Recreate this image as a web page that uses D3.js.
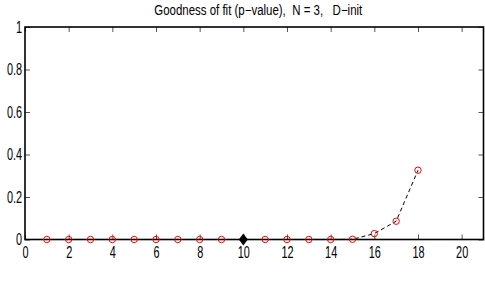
<!DOCTYPE html>
<html>
<head>
<meta charset="utf-8">
<script src="https://cdn.jsdelivr.net/npm/d3@7"></script>
<style>
  body { margin: 0; background: #fff; }
  text { font-family: "Liberation Sans", Arial, sans-serif; white-space: pre; }
</style>
</head>
<body>
<div id="chart"></div>
<script>
const width = 485;
const height = 281;

// data
const iterations = [1, 2, 3, 4, 5, 6, 7, 8, 9, 11, 12, 13, 14, 15, 16, 17, 18];
const pValues = [0, 0, 0, 0, 0, 0, 0, 0, 0, 0, 0, 0, 0, 0.001, 0.028, 0.086, 0.326];
const initX = [10];
const initY = [0];
const xTicks = [0, 2, 4, 6, 8, 10, 12, 14, 16, 18, 20];
const yTicks = [0, 0.2, 0.4, 0.6, 0.8, 1];
const title = "Goodness of fit (p\u2212value),  N = 3,   D\u2212init";

const plotLeft = 25, plotRight = 483.5, plotTop = 27, plotBottom = 239.5;
const sx = 0.68; // squeeze labels horizontally

const svg = d3.select("#chart")
  .append("svg")
  .attr("width", width)
  .attr("height", height);

const x = d3.scaleLinear().domain([0, 21]).range([plotLeft, plotRight]);
const y = d3.scaleLinear().domain([0, 1]).range([plotBottom, plotTop]);

const fmt = d => String(d);

function styleAxis(g, hideText) {
  g.select(".domain").remove();
  g.selectAll(".tick line").attr("stroke", "#555").attr("stroke-width", 1);
  g.selectAll(".tick text").attr("fill", "#000").attr("font-size", 16);
  if (hideText) g.selectAll(".tick text").remove();
}

// bottom axis
const gx = svg.append("g")
  .attr("transform", `translate(0,${plotBottom})`)
  .call(d3.axisBottom(x).tickValues(xTicks).tickFormat(fmt).tickSizeInner(-5).tickSizeOuter(0));
styleAxis(gx, false);
gx.selectAll(".tick text")
  .attr("y", 7)
  .attr("transform", `scale(${sx},1)`);

// top axis (mirror ticks)
const gxt = svg.append("g")
  .attr("transform", `translate(0,${plotTop})`)
  .call(d3.axisTop(x).tickValues(xTicks).tickSizeInner(-5).tickSizeOuter(0));
styleAxis(gxt, true);

// left axis
const gy = svg.append("g")
  .attr("transform", `translate(${plotLeft},0)`)
  .call(d3.axisLeft(y).tickValues(yTicks).tickFormat(fmt).tickSizeInner(-5).tickSizeOuter(0));
styleAxis(gy, false);
gy.selectAll(".tick text")
  .attr("x", -3 / sx)
  .attr("transform", `scale(${sx},1)`);

// right axis
const gyr = svg.append("g")
  .attr("transform", `translate(${plotRight},0)`)
  .call(d3.axisRight(y).tickValues(yTicks).tickSizeInner(-5).tickSizeOuter(0));
styleAxis(gyr, true);

// axes box
svg.append("rect")
  .attr("x", x(0))
  .attr("y", y(1))
  .attr("width", x(21) - x(0))
  .attr("height", y(0) - y(1))
  .attr("fill", "none")
  .attr("stroke", "#000")
  .attr("stroke-width", 1.6);

// dashed line through the points
const line = d3.line()
  .x((d, i) => x(iterations[i]))
  .y(d => y(d));

svg.append("path")
  .datum(pValues)
  .attr("d", line)
  .attr("fill", "none")
  .attr("stroke", "#000")
  .attr("stroke-width", 1)
  .attr("stroke-dasharray", "4,3");

// red open circles
svg.selectAll("circle")
  .data(pValues)
  .enter()
  .append("circle")
  .attr("cx", (d, i) => x(iterations[i]))
  .attr("cy", d => y(d))
  .attr("r", 3.2)
  .attr("fill", "none")
  .attr("stroke", "#ff0000")
  .attr("stroke-width", 1);

// black diamond for the initial point
svg.selectAll("path.init")
  .data(initX)
  .enter()
  .append("path")
  .attr("class", "init")
  .attr("d", (d, i) => {
    const cx = x(d), cy = y(initY[i]);
    return `M${cx},${cy - 6}L${cx + 4.5},${cy}L${cx},${cy + 6}L${cx - 4.5},${cy}Z`;
  })
  .attr("fill", "#000");

// title
svg.append("text")
  .attr("x", (plotLeft + plotRight) / 2 + 4)
  .attr("y", 15)
  .attr("text-anchor", "middle")
  .attr("font-size", 14)
  .attr("textLength", 208)
  .attr("lengthAdjust", "spacingAndGlyphs")
  .text(title);
</script>
</body>
</html>
